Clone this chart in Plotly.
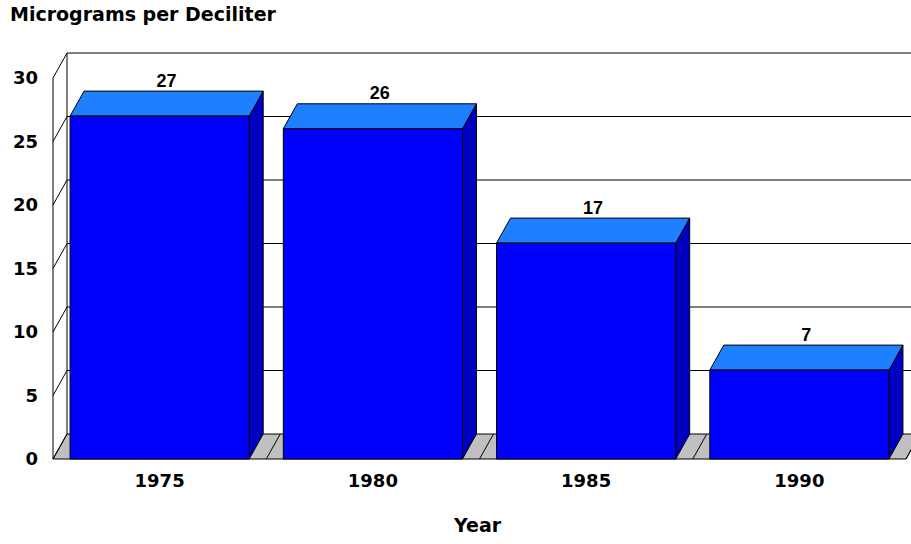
import plotly.graph_objects as go

# ---- data ----
years = ["1975", "1980", "1985", "1990"]
values = [27, 26, 17, 7]
y_ticks = [0, 5, 10, 15, 20, 25, 30]
title_text = "Micrograms per Deciliter"
x_title = "Year"

# ---- style / geometry (3D look) ----
FONT = "Liberation Sans, Arial, sans-serif"
WIDE = "DejaVu Sans, Verdana, sans-serif"
FRONT = "#0000FF"
TOP = "#1E80FF"
SIDE = "#0000C0"
FLOOR = "#C0C0C0"
HW = 0.42          # half bar width (category units)
DDX = 14 / 213.25  # depth offset in x units
DDY = 25 / 12.7    # depth offset in y units
XMIN, XMAX = -0.5, len(years) - 0.5
YMAX = max(y_ticks)

xs = list(range(len(years)))

shapes = []
def line(x0, y0, x1, y1):
    shapes.append(dict(type="line", xref="x", yref="y", x0=x0, y0=y0, x1=x1, y1=y1,
                       line=dict(color="black", width=1), layer="below"))
def poly(pts, fill):
    path = "M " + " L ".join(f"{px},{py}" for px, py in pts) + " Z"
    shapes.append(dict(type="path", xref="x", yref="y", path=path, fillcolor=fill,
                       line=dict(color="black", width=1), layer="below"))

# back wall gridlines and left wall
for v in y_ticks[1:]:
    line(XMIN + DDX, v + DDY, XMAX + DDX, v + DDY)
    line(XMIN, v, XMIN + DDX, v + DDY)
line(XMIN, 0, XMIN, YMAX)
line(XMIN + DDX, DDY, XMIN + DDX, YMAX + DDY)

# floor
poly([(XMIN, 0), (XMAX, 0), (XMAX + DDX, DDY), (XMIN + DDX, DDY)], FLOOR)
for i in range(len(years) + 1):
    b = XMIN + i
    line(b, 0, b + DDX, DDY)

# bar side and top faces
for x, v in zip(xs, values):
    x0, x1 = x - HW, x + HW
    poly([(x1, 0), (x1 + DDX, DDY), (x1 + DDX, v + DDY), (x1, v)], SIDE)
    poly([(x0, v), (x1, v), (x1 + DDX, v + DDY), (x0 + DDX, v + DDY)], TOP)

fig = go.Figure()
fig.add_trace(go.Bar(x=xs, y=values, width=2 * HW, marker=dict(color=FRONT, line=dict(color="black", width=1)),
                     hoverinfo="skip"))
fig.add_trace(go.Scatter(x=[x + DDX / 2 for x in xs], y=[v + DDY for v in values], mode="text",
                         text=[str(v) for v in values], textposition="top center",
                         textfont=dict(family=FONT, size=18, color="black", weight="bold"),
                         hoverinfo="skip", cliponaxis=False))

px_per_x = 213.25
px_per_y = 12.7
fig.update_layout(
    width=911, height=544,
    margin=dict(l=51, r=0, t=48, b=83),
    paper_bgcolor="white", plot_bgcolor="white",
    showlegend=False,
    hovermode=False,
    shapes=shapes,
    title=dict(text=title_text, x=10 / 911, xanchor="left", xref="container",
               y=1 - 14 / 544, yanchor="middle", yref="container",
               font=dict(family=WIDE, size=19, color="black", weight="bold")),
    xaxis=dict(range=[XMIN - 2 / px_per_x, XMIN + 860 / px_per_x - 2 / px_per_x],
               tickvals=xs, ticktext=years, showgrid=False, zeroline=False, showline=False,
               ticks="", ticklabelstandoff=7,
               tickfont=dict(family=WIDE, size=18, color="black", weight="bold")),
    yaxis=dict(range=[-2 / px_per_y, (459 - 48) / px_per_y], tickvals=y_ticks,
               showgrid=False, zeroline=False, showline=False, ticks="", ticklabelstandoff=12,
               tickfont=dict(family=WIDE, size=18, color="black", weight="bold")),
    annotations=[dict(text=x_title, xref="paper", yref="paper", x=(477.7 - 51) / 860, y=0,
                      xanchor="center", yanchor="middle", yshift=-64, showarrow=False,
                      font=dict(family=WIDE, size=19, color="black", weight="bold"))],
)

fig.write_html("out.html", config={"displayModeBar": False},
               post_script="document.body.style.margin='0';document.body.style.padding='0';")
